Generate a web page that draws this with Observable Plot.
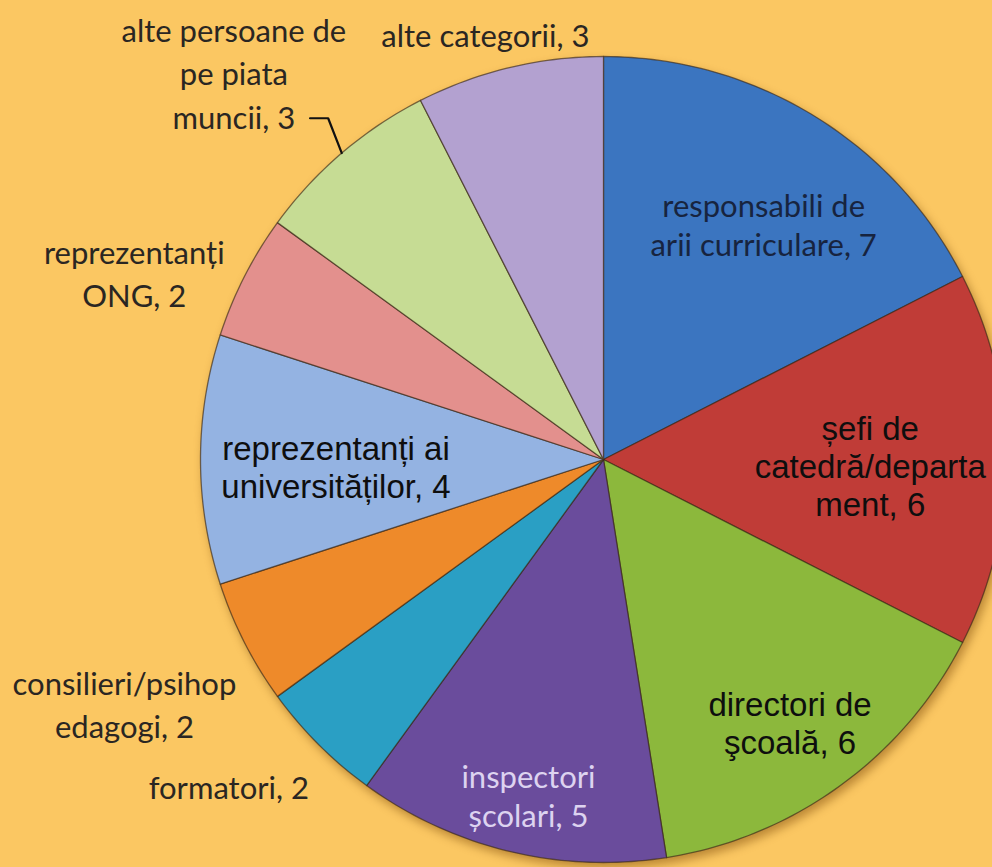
<!DOCTYPE html>
<html><head><meta charset="utf-8">
<script src="https://cdn.jsdelivr.net/npm/d3@7"></script>
<script src="https://cdn.jsdelivr.net/npm/@observablehq/plot@0.6"></script>
<style>html,body{margin:0;padding:0;background:#fbc762;overflow:hidden;}</style>
</head><body><div id="chart"></div>
<script>
// ---- data ----
const categories = [
  "responsabili de arii curriculare",
  "șefi de catedră/departament",
  "directori de şcoală",
  "inspectori școlari",
  "formatori",
  "consilieri/psihopedagogi",
  "reprezentanți ai universităților",
  "reprezentanți ONG",
  "alte persoane de pe piata muncii",
  "alte categorii"
];
const values = [7, 6, 6, 5, 2, 2, 4, 2, 3, 3];
const labels = [
  "responsabili de\narii curriculare, 7",
  "șefi de\ncatedră/departa\nment, 6",
  "directori de\nşcoală, 6",
  "inspectori\nșcolari, 5",
  "formatori, 2",
  "consilieri/psihop\nedagogi, 2",
  "reprezentanți ai\nuniversităților, 4",
  "reprezentanți\nONG, 2",
  "alte persoane de\npe piata\nmuncii, 3",
  "alte categorii, 3"
];
const colors = ["#3b75c0", "#c03c37", "#8cb83c", "#6a4c9c", "#2a9fc4", "#ee8a2a",
                "#94b3e2", "#e3908d", "#c6dc94", "#b3a1d0"];

// ---- layout (not data) ----
const W = 992, H = 867, CX = 603, CY = 459, R = 403;
// label placement: [angle (deg clockwise from top), radius factor, style group]
const labelLayout = [
  [34.2, 0.707, "navy"], [91.3, 0.662, "arial"], [144.7, 0.801, "arial"],
  [192.6, 0.854, "light"], [229, 1.232, "out"], [243.1, 1.333, "out"],
  [268.5, 0.664, "arial"], [291.8, 1.254, "out"], [316.4, 1.33, "out"],
  [344.5, 1.097, "out"]
];

const total = d3.sum(values);
const rad = d => d * Math.PI / 180;
const polar = (deg, r) => ({x: r * Math.sin(rad(deg)), y: r * Math.cos(rad(deg))});

// slice outlines built from the values
const slicePts = [];
let cum = 0;
const mids = [];
values.forEach((v, i) => {
  const a0 = cum / total * 360, a1 = (cum + v) / total * 360;
  mids.push((a0 + a1) / 2);
  slicePts.push({cat: categories[i], x: 0, y: 0});
  const n = Math.max(2, Math.ceil(a1 - a0));
  for (let k = 0; k <= n; k++) {
    const p = polar(a0 + (a1 - a0) * k / n, 1);
    slicePts.push({cat: categories[i], ...p});
  }
  slicePts.push({cat: categories[i], x: 0, y: 0});
  cum += v;
});

const labelData = labels.map((t, i) => {
  const [a, r, g] = labelLayout[i];
  return {text: t, group: g, ...polar(a, r)};
});

// leader line for "alte persoane de pe piata muncii"
const li = 8;
const e0 = polar(mids[li], 1.0), e1 = polar(mids[li] + 1.6, 1.088);
const leader = [e0, e1, {x: e1.x - 0.045, y: e1.y}];

const textMark = (g, opts) => Plot.text(labelData.filter(d => d.group === g),
  {x: "x", y: "y", text: "text", lineHeight: 1.25, ...opts});

const chart = Plot.plot({
  width: W, height: H, margin: 0,
  style: {background: "#fbc762", overflow: "hidden"},
  x: {domain: [-1, 1], range: [CX - R, CX + R], axis: null},
  y: {domain: [-1, 1], range: [CY + R, CY - R], axis: null},
  color: {domain: categories, range: colors},
  marks: [
    Plot.line(slicePts, {x: "x", y: "y", z: "cat", fill: "cat",
      stroke: "#3b2a18", strokeOpacity: 0.65, strokeWidth: 1.3, strokeLinejoin: "round"}),
    Plot.line(leader, {x: "x", y: "y", stroke: "#111", strokeWidth: 2.2}),
    textMark("out", {fontFamily: "Lato", fontSize: 31, fill: "#2a2622", lineHeight: 1.4}),
    textMark("navy", {fontFamily: "Lato", fontSize: 31, fill: "#17243f"}),
    textMark("light", {fontFamily: "Lato", fontSize: 31, fill: "#ddd3f0"}),
    textMark("arial", {fontFamily: "Liberation Sans, Arial", fontSize: 33, fill: "#0e0e0e", lineHeight: 1.15})
  ]
});
document.getElementById("chart").appendChild(chart);
const g = chart.querySelector('g[aria-label="line"]');
if (g) g.style.filter = "drop-shadow(3px 5px 5px rgba(110,60,0,0.45))";
</script>
</body></html>
